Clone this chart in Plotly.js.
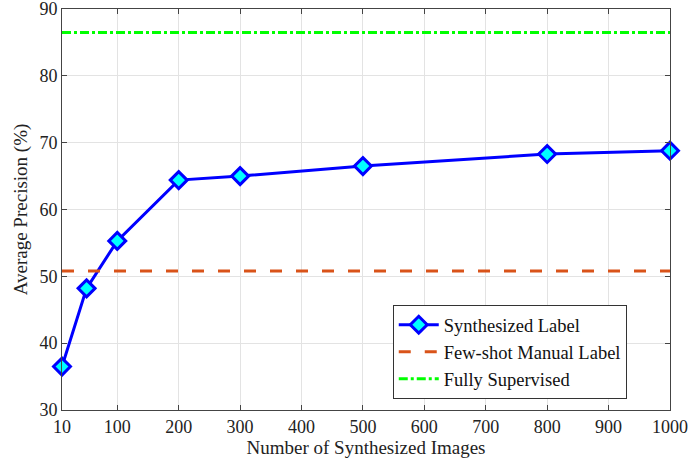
<!DOCTYPE html>
<html><head><meta charset="utf-8">
<script src="https://cdn.plot.ly/plotly-3.0.1.min.js"></script>
<style>body{margin:0;padding:0;background:#fff}#c{width:690px;height:468px}</style>
</head><body><div id="c"></div>
<script>
const numImages = [10, 50, 100, 200, 300, 500, 800, 1000];
const synthesizedAP = [36.5, 48.2, 55.3, 64.4, 65.0, 66.5, 68.3, 68.8];
const fewShotAP = 50.8;
const fullySupervisedAP = 86.5;
const xTicks = [10, 100, 200, 300, 400, 500, 600, 700, 800, 900, 1000];
const yTicks = [30, 40, 50, 60, 70, 80, 90];
const xRange = [10, 1000];

const FONT = "'Liberation Serif', 'Times New Roman', Times, 'DejaVu Serif', serif";
const traces = [
  {x: numImages, y: synthesizedAP, name: 'Synthesized Label', mode: 'lines+markers', cliponaxis: false,
   line: {color: '#0000ff', width: 3},
   marker: {symbol: 'diamond', size: 13, color: '#00ffff', line: {color: '#0000ff', width: 3}}},
  {x: xRange, y: [fewShotAP, fewShotAP], name: 'Few-shot Manual Label', mode: 'lines',
   line: {color: '#d95319', width: 3, dash: '12px,14px'}},
  {x: xRange, y: [fullySupervisedAP, fullySupervisedAP], name: 'Fully Supervised', mode: 'lines',
   line: {color: '#00ff00', width: 3, dash: 'dashdot'}}
];
const axCommon = {showgrid: true, gridcolor: '#e3e3e3', gridwidth: 1, zeroline: false,
  showline: true, linecolor: '#444', linewidth: 1, mirror: 'ticks', ticks: 'inside',
  ticklen: 5, tickcolor: '#444', ticklabeloverflow: 'allow',
  tickfont: {family: FONT, size: 18, color: '#222'}};
const layout = {
  width: 690, height: 468, margin: {l: 62, r: 20, t: 9, b: 58},
  paper_bgcolor: '#fff', plot_bgcolor: '#fff', showlegend: true,
  font: {family: FONT, color: '#222'},
  xaxis: Object.assign({}, axCommon, {range: xRange, tickvals: xTicks, ticktext: xTicks.map(String),
    title: {text: 'Number of Synthesized Images', font: {family: FONT, size: 19, color: '#222'}, standoff: 4}}),
  yaxis: Object.assign({}, axCommon, {range: [30, 90], tickvals: yTicks,
    title: {text: 'Average Precision (%)', font: {family: FONT, size: 19, color: '#222'}, standoff: 6}}),
  legend: {x: 0.544, y: 0.027, xanchor: 'left', yanchor: 'bottom', bgcolor: '#fff',
    bordercolor: '#333', borderwidth: 1, font: {family: FONT, size: 18.5, color: '#111'},
    tracegroupgap: 0, itemwidth: 40}
};
Plotly.newPlot('c', traces, layout, {displayModeBar: false, staticPlot: true});
</script></body></html>
